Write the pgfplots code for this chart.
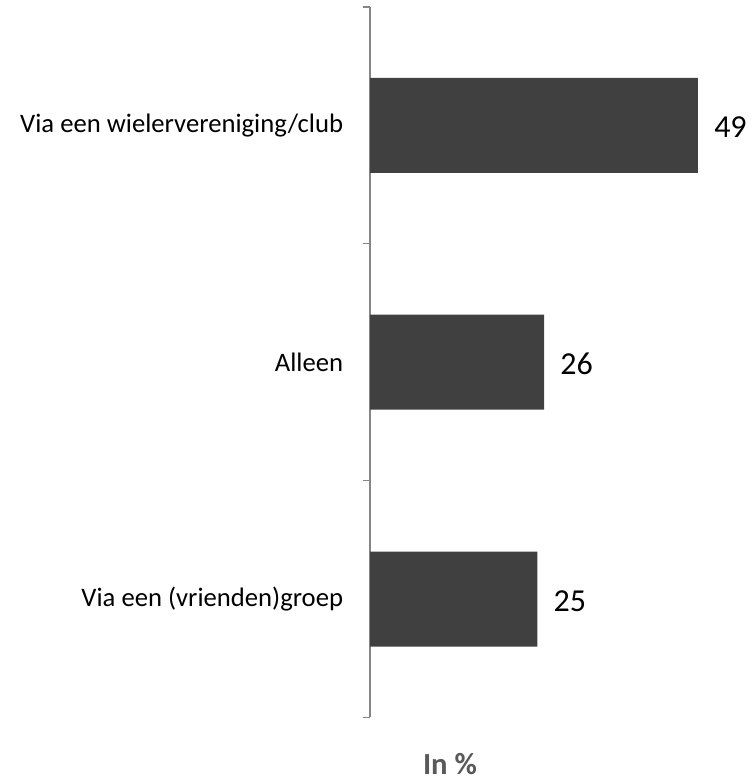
\documentclass[border=0pt]{standalone}
\usepackage{pgfplots}
\pgfplotsset{compat=1.18}
\usepackage{fontspec}
\setmainfont{Carlito}
\definecolor{barc}{HTML}{404040}
\definecolor{axc}{HTML}{868686}
\definecolor{ttl}{HTML}{595959}
\begin{document}
\begin{tikzpicture}[x=0.75pt,y=0.75pt]
\useasboundingbox (0,0) rectangle (753,781);
\begin{axis}[
  at={(370*0.75pt,63.5*0.75pt)}, anchor=south west,
  scale only axis,
  width=328*0.75pt, height=710.5*0.75pt,
  xbar, bar width=71.25pt,
  xmin=0, xmax=49,
  ymin=-0.5, ymax=2.5,
  axis x line=none,
  axis y line*=left,
  y axis line style={axc, line width=1pt, -},
  ytick={0,1,2},
  yticklabels={Via een (vrienden)groep, Alleen, Via een wielervereniging/club},
  major tick length=0pt,
  minor ytick={-0.5,0.5,1.5,2.5},
  minor tick length=5.5pt,
  tick align=outside,
  every minor tick/.style={axc, line width=1pt},
  yticklabel style={font=\fontsize{20}{22}\selectfont, anchor=east, inner sep=0pt, xshift=-20pt, black},
  /pgf/number format/assume math mode=true,
  nodes near coords,
  nodes near coords align=horizontal,
  every node near coord/.append style={font=\fontsize{24}{26}\selectfont, black, inner sep=0pt, xshift=12pt, yshift=-1.5pt},
  clip=false,
]
\addplot[fill=barc, draw=none] coordinates {(25,0) (26,1) (49,2)};
\end{axis}
\node[font=\bfseries\fontsize{23}{25}\selectfont, text=ttl, inner sep=0pt] at (450,17) {In \%};
\end{tikzpicture}
\end{document}
